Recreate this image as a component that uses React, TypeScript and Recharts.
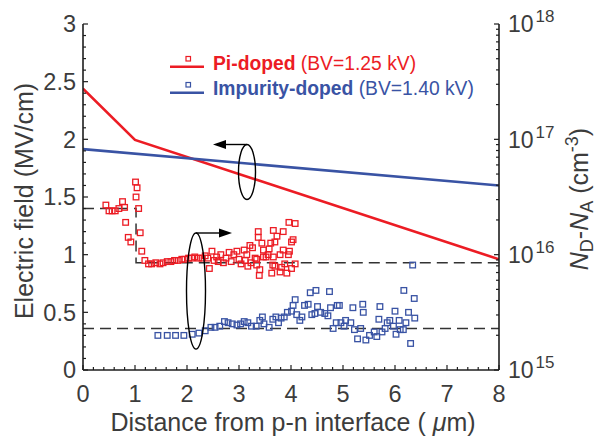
import React from 'react';
import { ComposedChart, Line, Scatter, XAxis, YAxis } from 'recharts';

const RED = '#ec1c24';
const BLUE = '#3953a4';
const INK = '#1e1e1e';
const TEXT = '#3c3c3c';
const FONT = '"Liberation Sans", Arial, Helvetica, sans-serif';

// ---------- tick labels ----------
const xTickLabels = ['0', '1', '2', '3', '4', '5', '6', '7', '8'];
const leftTickLabels = ['0', '0.5', '1', '1.5', '2', '2.5', '3'];
const rightTickExponents = ['15', '16', '17', '18'];

// ---------- electric field lines (MV/cm) ----------
const piFieldX = [0, 1, 8];
const piFieldY = [2.44, 1.995, 0.96];
const impFieldX = [0, 8];
const impFieldY = [1.915, 1.6];

// ---------- target doping profiles (log10 of N_D-N_A, cm^-3) ----------
const piTargetX = [0, 1.02, 1.02, 8];
const piTargetLogN = [16.4, 16.4, 15.93, 15.93];
const impTargetX = [0, 8];
const impTargetLogN = [15.36, 15.36];

// ---------- measured doping (log10 of N_D-N_A, cm^-3) ----------
const piX = [
  0.44, 0.5, 0.56, 0.62, 0.69, 0.76, 0.8, 0.82, 0.87, 0.92, 1.01, 1.04, 1.02, 1.07, 1.1, 1.13,
  1.19, 1.26, 1.32, 1.4, 1.48, 1.54, 1.62, 1.69, 1.76, 1.83, 1.9, 1.96, 2.03, 2.09, 2.15, 2.22,
  2.29, 2.35, 2.4, 2.48, 2.43, 2.57, 2.7, 2.81, 2.9, 2.96, 3.0, 3.1, 3.15, 3.21, 3.26, 3.23,
  3.34, 3.37, 3.37, 3.44, 3.47, 3.4, 3.39, 3.52, 3.58, 3.61, 3.66, 3.69, 3.65, 3.63, 3.73, 3.31,
  3.34, 3.47, 3.56, 3.66, 3.69, 3.79, 3.79, 3.82, 3.85, 3.88, 3.92, 3.95, 3.97, 4.01, 4.01, 4.08,
  3.96, 4.08, 3.85, 4.04, 2.6, 2.75, 2.85, 3.04, 3.12, 3.17, 2.65, 2.52,
];
const piLogN = [
  16.43, 16.38, 16.38, 16.38, 16.4, 16.46, 16.41, 16.28, 16.15, 16.11, 16.63, 16.58, 16.5, 16.4, 16.19, 16.03,
  15.95, 15.92, 15.92, 15.93, 15.92, 15.93, 15.94, 15.94, 15.95, 15.95, 15.96, 15.96, 15.97, 15.97, 15.98, 15.97,
  15.97, 15.99, 15.97, 16.03, 15.88, 15.98, 15.93, 16.02, 16.0, 16.03, 15.96, 16.04, 16.0, 16.08, 16.06, 15.93,
  15.96, 16.2, 16.15, 16.1, 16.04, 15.87, 15.82, 15.98, 16.05, 16.1, 16.21, 16.11, 15.91, 15.84, 16.16, 15.97,
  15.91, 15.98, 16.0, 15.98, 15.9, 16.0, 15.85, 15.89, 16.04, 15.92, 15.84, 16.0, 16.03, 16.11, 15.88, 15.92,
  16.28, 16.27, 16.2, 16.13, 15.94, 15.97, 15.94, 15.92, 15.95, 15.9, 16.0, 15.95,
];
const impX = [
  1.44, 1.62, 1.78, 1.94, 2.1, 2.23, 2.35, 2.46, 2.54, 2.63, 2.72, 2.79, 2.87, 2.96, 3.03, 3.1,
  3.17, 3.24, 3.33, 3.4, 3.45, 3.48, 3.58, 3.65, 3.71, 3.76, 3.81, 3.87, 3.93, 4.01, 4.04, 4.08,
  4.11, 4.17, 4.21, 4.26, 4.33, 4.37, 4.4, 4.46, 4.48, 4.51, 4.57, 4.65, 4.71, 4.74, 4.76, 4.81,
  4.87, 4.89, 4.93, 4.96, 5.02, 5.05, 5.15, 5.19, 5.22, 5.28, 5.34, 5.38, 5.39, 5.44, 5.51, 5.6,
  5.65, 5.69, 5.71, 5.75, 5.81, 5.85, 5.9, 5.97, 6.0, 6.02, 6.08, 6.1, 6.16, 6.17, 6.21, 6.26,
  6.3, 6.34, 6.37, 6.38,
];
const impLogN = [
  15.3, 15.3, 15.3, 15.3, 15.31, 15.32, 15.34, 15.37, 15.37, 15.38, 15.42, 15.41, 15.4, 15.39, 15.4, 15.42,
  15.41, 15.38, 15.38, 15.43, 15.46, 15.4, 15.37, 15.44, 15.46, 15.41, 15.45, 15.46, 15.5, 15.51, 15.56, 15.61,
  15.48, 15.43, 15.46, 15.56, 15.57, 15.67, 15.48, 15.49, 15.69, 15.55, 15.5, 15.49, 15.47, 15.68, 15.54, 15.36,
  15.41, 15.56, 15.56, 15.41, 15.38, 15.43, 15.41, 15.54, 15.35, 15.27, 15.36, 15.57, 15.5, 15.26, 15.3, 15.33,
  15.29, 15.44, 15.55, 15.33, 15.36, 15.41, 15.43, 15.38, 15.51, 15.31, 15.43, 15.35, 15.35, 15.69, 15.41, 15.5,
  15.23, 15.91, 15.62, 15.45,
];

const zip = (xs: number[], ys: number[]) => xs.map((x, i) => ({ x, y: ys[i] }));
const piFieldData = zip(piFieldX, piFieldY);
const impFieldData = zip(impFieldX, impFieldY);
const piTargetData = zip(piTargetX, piTargetLogN);
const impTargetData = zip(impTargetX, impTargetLogN);
const piPoints = zip(piX, piLogN);
const impPoints = zip(impX, impLogN);

// tick positions (major + minor)
const xTicks = Array.from({ length: 41 }, (_, i) => i / 5);
const leftTicks = Array.from({ length: 31 }, (_, i) => i / 10);
const rightTicks: number[] = [];
[15, 16, 17].forEach((e) => {
  for (let k = 1; k <= 9; k++) rightTicks.push(e + Math.log10(k));
});
rightTicks.push(18);

const near = (a: number, b: number) => Math.abs(a - b) < 1e-6;

const BottomTick = (p: any) => {
  const { x, y, payload } = p;
  const v = payload.value as number;
  const major = near(v, Math.round(v));
  return (
    <g>
      <line x1={x} x2={x} y1={y} y2={y - (major ? 5 : 3)} stroke={INK} strokeWidth={1.2} />
      {major && (
        <text x={x} y={y + 32} textAnchor="middle" fontSize={23.5} fill={TEXT} fontFamily={FONT}>
          {xTickLabels[Math.round(v)]}
        </text>
      )}
    </g>
  );
};

const TopTick = (p: any) => {
  const { x, y, payload } = p;
  const v = payload.value as number;
  const major = near(v, Math.round(v));
  return <line x1={x} x2={x} y1={y} y2={y + (major ? 5 : 3)} stroke={INK} strokeWidth={1.2} />;
};

const LeftTick = (p: any) => {
  const { x, y, payload } = p;
  const v = payload.value as number;
  const major = near(v * 2, Math.round(v * 2));
  return (
    <g>
      <line x1={x} x2={x + (major ? 5 : 3)} y1={y} y2={y} stroke={INK} strokeWidth={1.2} />
      {major && (
        <text x={x - 7} y={y + 8.3} textAnchor="end" fontSize={23.5} fill={TEXT} fontFamily={FONT}>
          {leftTickLabels[Math.round(v * 2)]}
        </text>
      )}
    </g>
  );
};

const RightTick = (p: any) => {
  const { x, y, payload } = p;
  const v = payload.value as number;
  const major = near(v, Math.round(v));
  return (
    <g>
      <line x1={x} x2={x - (major ? 5 : 3)} y1={y} y2={y} stroke={INK} strokeWidth={1.2} />
      {major && (
        <text x={x + 9} y={y + 8.3} fontSize={23} fill={TEXT} fontFamily={FONT}>
          10
          <tspan dx={2} dy={-10} fontSize={17}>
            {rightTickExponents[Math.round(v) - 15]}
          </tspan>
        </text>
      )}
    </g>
  );
};

const square = (color: string) => (p: any) => {
  const { cx, cy } = p;
  if (cx == null || cy == null) return <g />;
  return <rect x={cx - 2.8} y={cy - 2.8} width={5.6} height={5.6} fill="none" stroke={color} strokeWidth={1.3} />;
};

const axisLine = { stroke: INK, strokeWidth: 1.6 };

export default function App() {
  return (
    <div style={{ position: 'relative', width: 598, height: 437, background: '#fff' }}>
      <style>{`body{margin:0}`}</style>
      <ComposedChart width={598} height={437} margin={{ top: 24, right: 0, bottom: 0, left: 0 }}>
        <XAxis
          xAxisId="b"
          dataKey="x"
          type="number"
          domain={[0, 8]}
          allowDataOverflow
          ticks={xTicks}
          interval={0}
          tickSize={0}
          tickMargin={0}
          tick={BottomTick}
          tickLine={false}
          axisLine={axisLine}
          height={67}
        />
        <XAxis
          xAxisId="t"
          orientation="top"
          dataKey="x"
          type="number"
          domain={[0, 8]}
          allowDataOverflow
          ticks={xTicks}
          interval={0}
          tickSize={0}
          tickMargin={0}
          tick={TopTick}
          tickLine={false}
          axisLine={axisLine}
          height={0}
        />
        <YAxis
          yAxisId="l"
          dataKey="y"
          type="number"
          domain={[0, 3]}
          allowDataOverflow
          ticks={leftTicks}
          interval={0}
          tickSize={0}
          tickMargin={0}
          tick={LeftTick}
          tickLine={false}
          axisLine={axisLine}
          width={83}
        />
        <YAxis
          yAxisId="r"
          orientation="right"
          dataKey="y"
          type="number"
          domain={[15, 18]}
          allowDataOverflow
          ticks={rightTicks}
          interval={0}
          tickSize={0}
          tickMargin={0}
          tick={RightTick}
          tickLine={false}
          axisLine={axisLine}
          width={99}
        />
        <Line
          data={piTargetData}
          xAxisId="b"
          yAxisId="r"
          dataKey="y"
          type="linear"
          stroke="#333"
          strokeWidth={1.5}
          strokeDasharray="11 6"
          dot={false}
          activeDot={false}
          isAnimationActive={false}
        />
        <Line
          data={impTargetData}
          xAxisId="b"
          yAxisId="r"
          dataKey="y"
          type="linear"
          stroke="#333"
          strokeWidth={1.5}
          strokeDasharray="11 6"
          dot={false}
          activeDot={false}
          isAnimationActive={false}
        />
        <Scatter data={piPoints} xAxisId="b" yAxisId="r" dataKey="y" shape={square(RED)} isAnimationActive={false} />
        <Scatter data={impPoints} xAxisId="b" yAxisId="r" dataKey="y" shape={square(BLUE)} isAnimationActive={false} />
        <Line
          data={piFieldData}
          xAxisId="b"
          yAxisId="l"
          dataKey="y"
          type="linear"
          stroke={RED}
          strokeWidth={2.6}
          dot={false}
          activeDot={false}
          isAnimationActive={false}
        />
        <Line
          data={impFieldData}
          xAxisId="b"
          yAxisId="l"
          dataKey="y"
          type="linear"
          stroke={BLUE}
          strokeWidth={2.6}
          dot={false}
          activeDot={false}
          isAnimationActive={false}
        />
      </ComposedChart>
      <svg
        width={598}
        height={437}
        style={{ position: 'absolute', left: 0, top: 0, pointerEvents: 'none' }}
        fontFamily={FONT}
      >
        {/* legend */}
        <line x1={170} x2={204} y1={66.7} y2={66.7} stroke={RED} strokeWidth={2.6} />
        <rect x={186} y={56.5} width={4.5} height={4.5} fill="none" stroke={RED} strokeWidth={1.2} />
        <text x={213} y={70} fontSize={19.3} fill={RED}>
          <tspan fontWeight="bold">Pi-doped</tspan> (BV=1.25 kV)
        </text>
        <line x1={170} x2={204} y1={92.7} y2={92.7} stroke={BLUE} strokeWidth={2.6} />
        <rect x={186} y={82.5} width={4.5} height={4.5} fill="none" stroke={BLUE} strokeWidth={1.2} />
        <text x={213} y={94.5} fontSize={19.3} fill={BLUE}>
          <tspan fontWeight="bold">Impurity-doped</tspan> (BV=1.40 kV)
        </text>

        {/* annotations */}
        <ellipse cx={247} cy={172} rx={8.5} ry={27.5} fill="none" stroke="#000" strokeWidth={1.4} />
        <line x1={247} x2={224} y1={144.5} y2={144.5} stroke="#000" strokeWidth={1.4} />
        <polygon points="213,144.5 226,140 226,149" fill="#000" />
        <ellipse cx={196} cy={291} rx={9.5} ry={58} fill="none" stroke="#000" strokeWidth={1.4} />
        <line x1={196} x2={221} y1={233} y2={233} stroke="#000" strokeWidth={1.4} />
        <polygon points="232,233 219,228.5 219,237.5" fill="#000" />

        {/* axis titles */}
        <text transform="translate(33,201) rotate(-90)" textAnchor="middle" fontSize={25} fill={TEXT}>
          Electric field (MV/cm)
        </text>
        <text x={293} y={431} textAnchor="middle" fontSize={25} fill={TEXT}>
          Distance from p-n interface ( <tspan fontStyle="italic">μ</tspan>m)
        </text>
        <text transform="translate(588,199) rotate(-90)" textAnchor="middle" fontSize={25} fill={TEXT}>
          <tspan fontStyle="italic">N</tspan>
          <tspan fontSize={18} dy={5}>D</tspan>
          <tspan dy={-5}>-</tspan>
          <tspan fontStyle="italic">N</tspan>
          <tspan fontSize={18} dy={5}>A</tspan>
          <tspan dy={-5}> (cm</tspan>
          <tspan fontSize={18} dy={-10}>-3</tspan>
          <tspan dy={10}>)</tspan>
        </text>
      </svg>
    </div>
  );
}
